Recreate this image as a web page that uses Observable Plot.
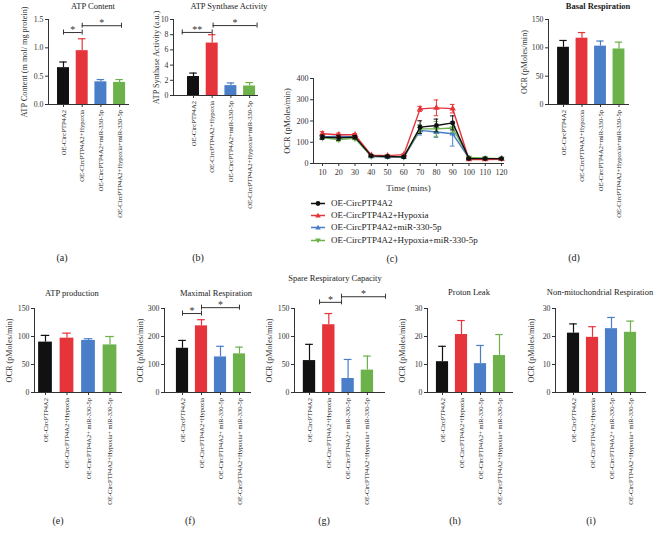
<!DOCTYPE html>
<html><head><meta charset="utf-8">
<script src="https://cdn.jsdelivr.net/npm/d3@7"></script>
<script src="https://cdn.jsdelivr.net/npm/@observablehq/plot@0.6"></script>
<style>
body{margin:0;background:#fff;}
#root{position:relative;width:654px;height:555px;overflow:hidden;font-family:"Liberation Serif",serif;color:#222;background:#fff;}
.t{position:absolute;white-space:nowrap;transform:translate(-50%,-50%);line-height:1;}
#root svg{position:absolute;}
.leg{position:absolute;white-space:nowrap;font-size:9px;line-height:1;display:flex;align-items:center;transform:translateY(-50%);}
</style></head><body><div id="root"></div>
<script>
// ---------- data ----------
const categories = ["OE-CircPTP4A2","OE-CircPTP4A2+Hypoxia","OE-CircPTP4A2+miR-330-5p","OE-CircPTP4A2+Hypoxia+miR-330-5p"];
const categories2 = ["OE-CircPTP4A2","OE-CircPTP4A2+Hypoxia","OE-CircPTP4A2+ miR-330-5p","OE-CircPTP4A2+Hypoxia+ miR-330-5p"];
const colors = ["#111111","#e5343a","#4a7ec8","#6cb14a"];

const atpContentMean = [0.65, 0.95, 0.40, 0.39];
const atpContentSD   = [0.10, 0.21, 0.04, 0.05];
const atpContentTicks = [0, 0.5, 1.0, 1.5];
const atpContentBrackets = [{from:0, to:1, y:1.27, label:"*"}, {from:1, to:3.1, y:1.39, label:"*"}];

const synthaseMean = [2.5, 6.9, 1.3, 1.25];
const synthaseSD   = [0.45, 1.1, 0.35, 0.45];
const synthaseTicks = [0, 2, 4, 6, 8, 10];
const synthaseBrackets = [{from:-0.6, to:1, y:8.3, label:"**"}, {from:1.05, to:3.4, y:9.2, label:"*"}];

const times = [10,20,30,40,50,60,70,80,90,100,110,120];
const ocrBlack = [124,121,124,36,33,31,171,179,191,23,23,23];
const ocrBlackSD = [10,12,8,4,4,3,30,30,33,3,3,3];
const ocrRed = [140,135,135,39,37,42,257,262,258,19,19,20];
const ocrRedSD = [10,8,6,3,3,3,12,37,20,3,3,3];
const ocrBlue = [125,128,125,33,30,30,156,148,140,25,23,23];
const ocrBlueSD = [8,8,8,3,3,3,22,25,58,3,3,3];
const ocrGreen = [121,113,118,34,33,31,163,163,167,28,25,23];
const ocrGreenSD = [8,8,6,3,3,3,20,35,20,3,3,3];
const ocrTicks = [0,100,200,300,400];

const basalMean = [101, 117, 103, 98];
const basalSD   = [12, 10, 9, 12];
const atpProdMean = [90, 97, 93, 85];
const atpProdSD   = [12, 9, 3, 15];
const maximalMean = [158, 238, 127, 138];
const maximalSD   = [28, 22, 38, 24];
const maximalBrackets = [{from:0, to:1, y:282, label:"*"}, {from:1, to:3, y:303, label:"*"}];
const spareMean = [57, 121, 25, 40];
const spareSD   = [29, 20, 34, 25];
const spareBrackets = [{from:0.52, to:1.66, y:161, label:"*"}, {from:1.66, to:3.94, y:171, label:"*"}];
const leakMean = [11, 20.7, 10.3, 13.2];
const leakSD   = [5.5, 5, 6.5, 7.5];
const nonMitoMean = [21.2, 19.7, 22.8, 21.5];
const nonMitoSD   = [3.3, 3.8, 4, 4];
const ocr150Ticks = [0,50,100,150];
const ocr300Ticks = [0,100,200,300];
const ocr30Ticks = [0,10,20,30];

// ---------- helpers ----------
const root = document.getElementById("root");
const FONT = "Liberation Serif";
const measureCtx = document.createElement("canvas").getContext("2d");
function fitFont(text, target) {
  measureCtx.font = `10px "${FONT}"`;
  return 10 * target / measureCtx.measureText(text).width;
}
function addText(txt, x, y, size, extra) {
  const d = document.createElement("div");
  d.className = "t"; d.textContent = txt;
  d.style.left = x + "px"; d.style.top = y + "px"; d.style.fontSize = size + "px";
  if (extra) Object.assign(d.style, extra);
  root.append(d);
}

function fixFonts(svg, opt) {
  const q = s => Array.from(svg.querySelectorAll(s));
  const xt = q('g[aria-label="x-axis tick label"] text');
  const yt = q('g[aria-label="y-axis tick label"] text');
  const xl = q('g[aria-label="x-axis label"] text');
  const yl = q('g[aria-label="y-axis label"] text');
  [...xl, ...yl].forEach(t => { t.textContent = t.textContent.replace(/\s*[↑↓←→]\s*/g, ""); });
  yt.forEach(t => { t.style.fontSize = opt.yTick + "px"; t.style.fontFamily = FONT; });
  yl.forEach(t => { t.style.fontSize = opt.yLabel + "px"; t.style.fontFamily = FONT; });
  xl.forEach(t => { t.style.fontSize = (opt.xLabel || 9) + "px"; t.style.fontFamily = FONT; });
  if (opt.xTick) xt.forEach(t => { t.style.fontFamily = FONT; t.style.fontSize = opt.xTick + "px"; });
}

function barPanel(o) {
  const mL = 60, mT = 34, mR = 8, mB = 130;
  const xMin = -(o.tick0 - o.axisX) / o.step;
  const xMax = 3 + (o.end - (o.tick0 + 3 * o.step)) / o.step;
  const width = mL + (o.end - o.axisX) + mR;
  const height = mT + (o.bottom - o.top) + mB;
  const perPx = o.max / (o.bottom - o.top);
  const hw = o.hw ?? 0.32, cw = o.cw ?? 0.2;
  const data = o.means.map((v, i) => ({i, v, e: o.sds[i], c: colors[i], name: o.cats[i]}));
  const fs = fitFont(o.cats[3], o.labelLen);
  const marks = [
    Plot.rectY(data, {x1: d => d.i - hw, x2: d => d.i + hw, y: "v", fill: "c"}),
    Plot.ruleX(data, {x: "i", y1: "v", y2: d => d.v + d.e, stroke: "c", strokeWidth: 1.2}),
    Plot.ruleY(data, {y: d => d.v + d.e, x1: d => d.i - cw, x2: d => d.i + cw, stroke: "c", strokeWidth: 1.2}),
    Plot.text(data, {x: "i", y: () => 0, text: "name", rotate: -90, textAnchor: "end", lineAnchor: "middle",
      dy: 5.5, fontSize: fs, fontFamily: FONT, fill: "#222"})
  ];
  if (o.brackets) {
    const ends = o.brackets.flatMap(b => [{x: b.from, y: b.y}, {x: b.to, y: b.y}]);
    marks.push(
      Plot.ruleY(o.brackets, {y: "y", x1: "from", x2: "to", stroke: "#333", strokeWidth: 1}),
      Plot.ruleX(ends, {x: "x", y1: d => d.y - 2.5 * perPx, y2: d => d.y + 2.5 * perPx, stroke: "#333", strokeWidth: 1}),
      Plot.text(o.brackets, {x: d => (d.from + d.to) / 2, y: "y", text: "label", dy: -3, fontSize: 10, fill: "#333"})
    );
  }
  const svg = Plot.plot({
    width, height, marginLeft: mL, marginTop: mT, marginRight: mR, marginBottom: mB,
    style: {background: "transparent", overflow: "visible", fontFamily: FONT, fontSize: "7.5px", color: "#333"},
    x: {domain: [xMin, xMax], ticks: [0, 1, 2, 3], tickFormat: () => "", tickSize: 3, tickPadding: 2, line: true, label: null},
    y: {domain: [0, o.max], ticks: o.ticks, tickFormat: o.fmt, tickSize: 3, tickPadding: 2, line: true, label: o.label, labelAnchor: "center", labelOffset: o.lo, labelArrow: false},
    color: {type: "identity"},
    marks
  });
  svg.style.left = (o.axisX - mL) + "px";
  svg.style.top = (o.top - mT) + "px";
  root.append(svg);
  fixFonts(svg, {yTick: 7.8, yLabel: 8.2});
}

const f1 = d3.format(".1f");
const f0 = d3.format("d");

// Row 1
barPanel({axisX: 48, top: 19, bottom: 104, tick0: 63, step: 18.7, end: 128, max: 1.5, ticks: atpContentTicks, fmt: f1, labelLen: 108,
  means: atpContentMean, sds: atpContentSD, cats: categories, label: "ATP Content (m mol/ mg protein)", lo: 27, brackets: atpContentBrackets});
barPanel({axisX: 173, top: 19, bottom: 95, tick0: 193, step: 18.7, end: 257, max: 10, ticks: synthaseTicks, fmt: f0, labelLen: 108,
  means: synthaseMean, sds: synthaseSD, cats: categories, label: "ATP Synthase Activity (a.u.)", lo: 20, brackets: synthaseBrackets});
barPanel({axisX: 548, top: 19, bottom: 104, tick0: 563, step: 18.5, end: 628, max: 150, ticks: ocr150Ticks, fmt: f0, labelLen: 108,
  means: basalMean, sds: basalSD, cats: categories, label: "OCR (pMoles/min)", lo: 27});

// Row 2
barPanel({axisX: 34, top: 308, bottom: 392, tick0: 45, step: 21.5, end: 121, max: 150, ticks: ocr150Ticks, fmt: f0, labelLen: 107,
  means: atpProdMean, sds: atpProdSD, cats: categories2, label: "OCR (pMoles/min)", lo: 28});
barPanel({axisX: 164, top: 308, bottom: 392, tick0: 182, step: 19, end: 250, max: 300, ticks: ocr300Ticks, fmt: f0, labelLen: 107,
  means: maximalMean, sds: maximalSD, cats: categories2, label: "OCR (pMoles/min)", lo: 27, brackets: maximalBrackets});
barPanel({axisX: 294, top: 308, bottom: 392, tick0: 309, step: 19.3, end: 384, max: 150, ticks: ocr150Ticks, fmt: f0, labelLen: 107,
  means: spareMean, sds: spareSD, cats: categories2, label: "OCR (pMoles/min)", lo: 28, brackets: spareBrackets});
barPanel({axisX: 427, top: 308, bottom: 392, tick0: 442, step: 19, end: 512, max: 30, ticks: ocr30Ticks, fmt: f0, labelLen: 107,
  means: leakMean, sds: leakSD, cats: categories2, label: "OCR (pMoles/min)", lo: 28});
barPanel({axisX: 555, top: 308, bottom: 392, tick0: 573, step: 19, end: 645, max: 30, ticks: ocr30Ticks, fmt: f0, labelLen: 107,
  means: nonMitoMean, sds: nonMitoSD, cats: categories2, label: "OCR (pMoles/min)", lo: 27});

// Panel (c): time course
(function () {
  const axisX = 313, top = 78, bottom = 163, end = 503, t0px = 322, t1px = 501;
  const mL = 50, mT = 12, mR = 12, mB = 40;
  const pxPerMin = (t1px - t0px) / (times[times.length - 1] - times[0]);
  const xMin = times[0] - (t0px - axisX) / pxPerMin;
  const xMax = times[times.length - 1] + (end - t1px) / pxPerMin;
  const triangleDown = {draw(ctx, size) {
    const y = -Math.sqrt(size / (Math.sqrt(3) * 3));
    ctx.moveTo(0, -y * 2); ctx.lineTo(-Math.sqrt(3) * y, y); ctx.lineTo(Math.sqrt(3) * y, y); ctx.closePath();
  }};
  const series = [
    {mean: ocrBlue, sd: ocrBlueSD, color: colors[2], symbol: "triangle"},
    {mean: ocrGreen, sd: ocrGreenSD, color: colors[3], symbol: triangleDown},
    {mean: ocrRed, sd: ocrRedSD, color: colors[1], symbol: "triangle"},
    {mean: ocrBlack, sd: ocrBlackSD, color: colors[0], symbol: "circle"}
  ];
  const marks = [];
  for (const s of series) {
    const data = times.map((t, k) => ({t, v: s.mean[k], e: s.sd[k]}));
    marks.push(
      Plot.ruleX(data, {x: "t", y1: d => d.v - d.e, y2: d => d.v + d.e, stroke: s.color, strokeWidth: 1}),
      Plot.ruleY(data, {y: d => d.v + d.e, x1: d => d.t - 1.4, x2: d => d.t + 1.4, stroke: s.color, strokeWidth: 1}),
      Plot.ruleY(data, {y: d => d.v - d.e, x1: d => d.t - 1.4, x2: d => d.t + 1.4, stroke: s.color, strokeWidth: 1}),
      Plot.line(data, {x: "t", y: "v", stroke: s.color, strokeWidth: 1.4}),
      Plot.dot(data, {x: "t", y: "v", fill: s.color, symbol: s.symbol, r: 2.4})
    );
  }
  const svg = Plot.plot({
    width: mL + (end - axisX) + mR, height: mT + (bottom - top) + mB,
    marginLeft: mL, marginTop: mT, marginRight: mR, marginBottom: mB,
    style: {background: "transparent", overflow: "visible", fontFamily: FONT, fontSize: "8px", color: "#333"},
    x: {domain: [xMin, xMax], ticks: times, tickSize: 3, tickPadding: 3, line: true, label: "Time (mins)", labelAnchor: "center", labelOffset: 27, labelArrow: false},
    y: {domain: [0, 400], ticks: ocrTicks, tickSize: 3, tickPadding: 2, line: true, label: "OCR (pMoles/min)", labelAnchor: "center", labelOffset: 29, labelArrow: false},
    marks
  });
  svg.style.left = (axisX - mL) + "px";
  svg.style.top = (top - mT) + "px";
  root.append(svg);
  fixFonts(svg, {yTick: 8, yLabel: 8.4, xTick: 8, xLabel: 9});

  // legend
  const legend = [
    {name: categories[0], color: colors[0], sym: "circle"},
    {name: categories[1], color: colors[1], sym: "up"},
    {name: categories[2], color: colors[2], sym: "up"},
    {name: categories[3], color: colors[3], sym: "down"}
  ];
  const ys = [203, 215, 227, 240];
  legend.forEach((l, k) => {
    const div = document.createElement("div");
    div.className = "leg";
    div.style.left = "310px"; div.style.top = ys[k] + "px";
    const shape = l.sym === "circle" ? `<circle cx="8" cy="4" r="2.4" fill="${l.color}"/>`
      : l.sym === "up" ? `<path d="M8,1.2L10.8,6L5.2,6Z" fill="${l.color}"/>`
      : `<path d="M8,6.8L10.8,2L5.2,2Z" fill="${l.color}"/>`;
    div.innerHTML = `<svg width="16" height="8" style="position:static;margin-right:5px"><line x1="1" x2="15" y1="4" y2="4" stroke="${l.color}" stroke-width="1.4"/>${shape}</svg><span>${l.name}</span>`;
    root.append(div);
  });
})();

// Titles
addText("ATP Content", 93, 6, 8.5);
addText("ATP Synthase Activity", 229, 6, 8.5);
addText("Basal Respiration", 598, 6, 8.5, {fontWeight: "bold"});
addText("ATP production", 72, 293, 8.5);
addText("Maximal Respiration", 216, 293, 8.5);
addText("Spare Respiratory Capacity", 335, 278, 8.5);
addText("Proton Leak", 469, 292, 8.5);
addText("Non-mitochondrial Respiration", 600, 292, 8.5);

// Panel letters
[["(a)", 62, 258], ["(b)", 198, 258], ["(c)", 392, 259], ["(d)", 574, 258],
 ["(e)", 58, 521], ["(f)", 190, 521], ["(g)", 324, 521], ["(h)", 455, 521], ["(i)", 591, 521]]
  .forEach(([t, x, y]) => addText(t, x, y, 10));
</script>
</body></html>
